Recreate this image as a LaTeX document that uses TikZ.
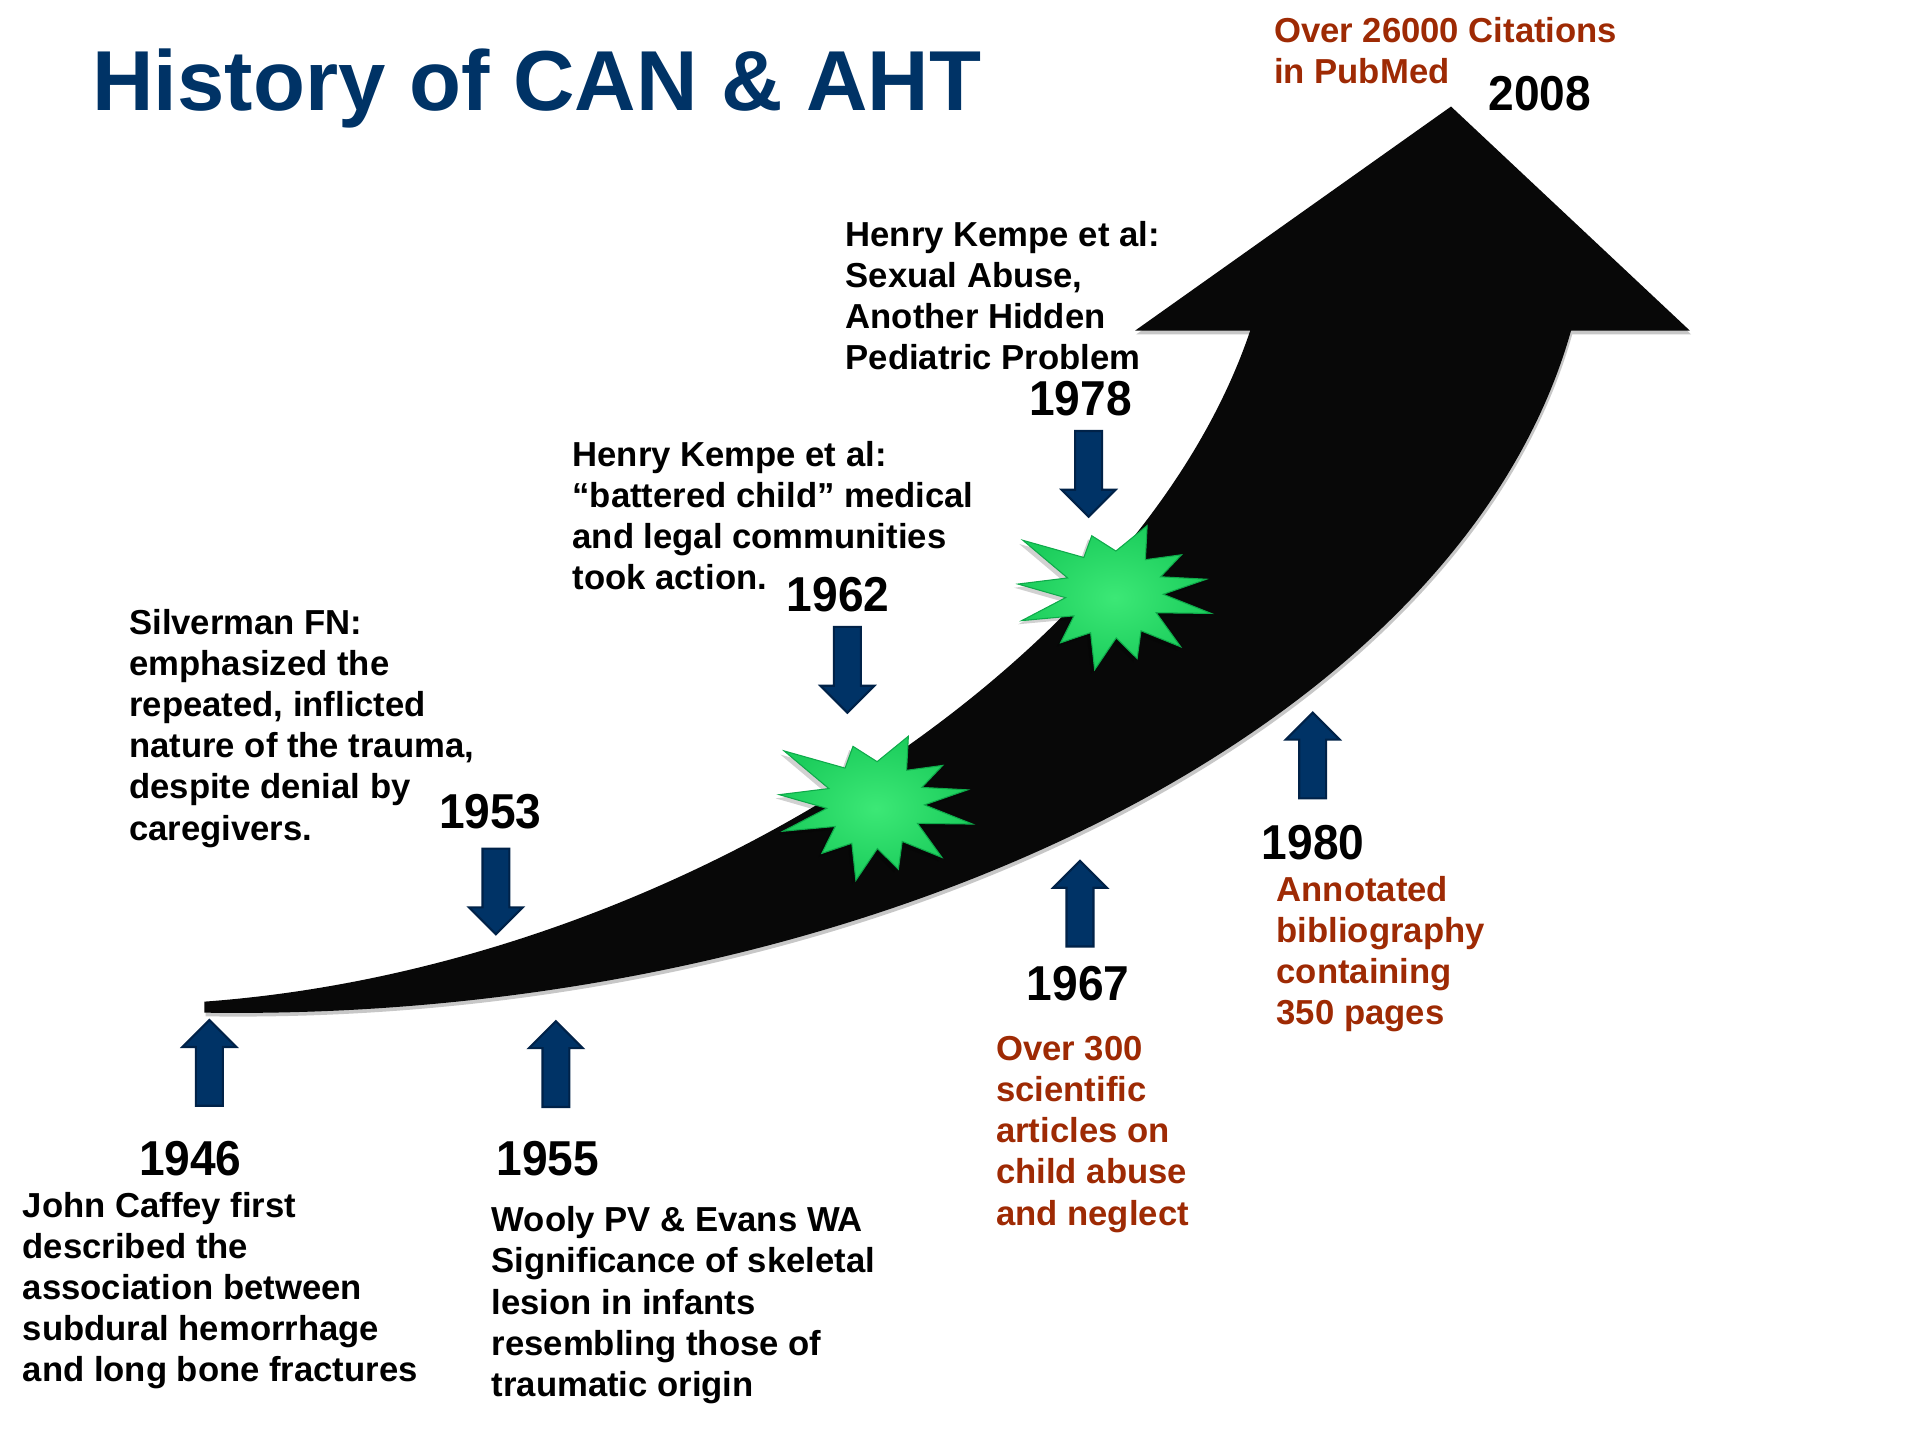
\documentclass[tikz,border=0pt]{standalone}
\usepackage{fontspec}
\setmainfont{Liberation Sans}
\newfontfamily\yearfam[FakeStretch=0.94]{Liberation Sans}

\definecolor{navy}{RGB}{0,51,102}
\definecolor{navyedge}{RGB}{0,34,72}
\definecolor{rusttext}{RGB}{158,42,4}
\definecolor{burstlight}{RGB}{60,232,118}
\definecolor{burstdark}{RGB}{28,205,92}
\definecolor{burstedge}{RGB}{14,170,74}

\newcommand\bodytext{\fontsize{9.86pt}{11.7pt}\selectfont\bfseries}
\newcommand\yeartext{\yearfam\fontsize{13.94pt}{16pt}\selectfont\bfseries}
\newcommand\titletext{\fontsize{24.2pt}{28pt}\selectfont\bfseries}
\newcommand\stack[1]{\begin{tabular}[t]{@{}l@{}}#1\end{tabular}}

% twelve-pointed burst, drawn around the current origin
\newcommand\burstpath{(12.1:81) -- (25.6:38) -- (39.2:70) -- (55:38) -- (70.9:57) -- (87.6:37)
  -- (104.3:65) -- (120.6:38) -- (137:60) -- (150.1:38) -- (163.2:79) -- (174.1:40)
  -- (185.1:79) -- (197.5:40) -- (209.8:86) -- (229.1:38) -- (248.4:50) -- (272.2:34)
  -- (296.1:61) -- (313.3:37) -- (330.6:63) -- (341.1:40) -- (351.7:76) -- (1.9:40) -- cycle}

\tikzset{
  txt/.style={anchor=base west, inner sep=0pt, font=\bodytext, text=black},
  redtxt/.style={txt, text=rusttext},
  yeartxt/.style={anchor=base west, inner sep=0pt, font=\yeartext, text=black},
  bluearrow/.style={fill=navy, draw=navyedge, line width=0.6pt, line join=miter},
  uparrow/.pic={\path[bluearrow] (-11,0) -- (-11,-48) -- (-22,-48) -- (0,-70)
      -- (22,-48) -- (11,-48) -- (11,0) -- cycle;},
  downarrow/.pic={\path[bluearrow] (-11,0) -- (-11,48) -- (-22,48) -- (0,70)
      -- (22,48) -- (11,48) -- (11,0) -- cycle;},
  burst/.pic={
    \fill[black, opacity=0.18, shift={(-3,3)}] \burstpath;
    \path[shading=radial, inner color=burstlight, outer color=burstdark,
          draw=burstedge, line width=0.3pt] \burstpath;},
}

\begin{document}
\begin{tikzpicture}[x=0.0122449cm, y=-0.0122449cm]
\useasboundingbox (0,0) rectangle (1568,1176);
\fill[white] (0,0) rectangle (1568,1176);

% title
\node[anchor=base west, inner sep=0pt, font=\titletext, text=navy] (title) at (75,90)
  {History of CAN \& AHT};

% the rising arrow: soft shadow, then the body and head
\fill[black, opacity=0.22, shift={(1,3)}]
  (167,818) .. controls (550,790) and (930,540) .. (1021,270) -- (927,270) -- (1185,87)
  -- (1380,270) -- (1283,270) .. controls (1190,600) and (700,835) .. (167,827) -- cycle;
\fill[black!97]
  (167,818) .. controls (550,790) and (930,540) .. (1021,270) -- (927,270) -- (1185,87)
  -- (1380,270) -- (1283,270) .. controls (1190,600) and (700,835) .. (167,827) -- cycle;

% bursts on the arrow
\pic (burstA) at (715,656) {burst};
\pic (burstB) at (910,484) {burst};

% pointer arrows
\pic (p1946) at (171,903) {uparrow};
\pic (p1955) at (454,904) {uparrow};
\pic (p1953) at (405,693) {downarrow};
\pic (p1962) at (692,512) {downarrow};
\pic (p1978) at (889,352) {downarrow};
\pic (p1967) at (882,773) {uparrow};
\pic (p1980) at (1072,652) {uparrow};

% years
\node[yeartxt] (y1946) at (113,960) {1946};
\node[yeartxt] (y1955) at (405,960) {1955};
\node[yeartxt] (y1953) at (358,677) {1953};
\node[yeartxt] (y1962) at (642,499) {1962};
\node[yeartxt] (y1978) at (840,339) {1978};
\node[yeartxt] (y1967) at (838,817) {1967};
\node[yeartxt] (y1980) at (1030,702) {1980};
\node[yeartxt] (y2008) at (1215,90) {2008};

% event descriptions
\node[txt] (caffey) at (18,994) {\stack{John Caffey first\\described the\\association between\\subdural hemorrhage\\and long bone fractures}};
\node[txt] (wooly) at (401,1006) {\stack{Wooly PV \& Evans WA\\Significance of skeletal\\lesion in infants\\resembling those of\\traumatic origin}};
\node[txt] (silverman) at (105,518) {\stack{Silverman FN:\\emphasized the\\repeated, inflicted\\nature of the trauma,\\despite denial by\\caregivers.}};
\node[txt] (kempeA) at (467,381) {\stack{Henry Kempe et al:\\“battered child” medical\\and legal communities\\took action.}};
\node[txt] (kempeB) at (690,201) {\stack{Henry Kempe et al:\\Sexual Abuse,\\Another Hidden\\Pediatric Problem}};
\node[redtxt] (articles) at (813,866) {\stack{Over 300\\scientific\\articles on\\child abuse\\and neglect}};
\node[redtxt] (biblio) at (1042,736) {\stack{Annotated\\bibliography\\containing\\350 pages}};
\node[redtxt] (pubmed) at (1040,35) {\stack{Over 26000 Citations\\in PubMed}};
\end{tikzpicture}
\end{document}
